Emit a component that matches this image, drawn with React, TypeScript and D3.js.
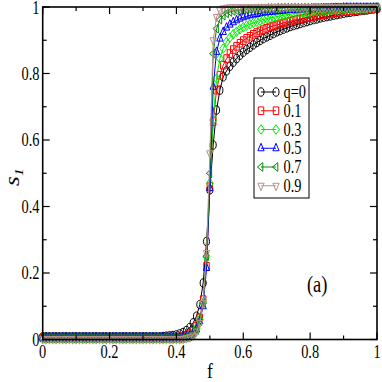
import React from "react";
import * as d3 from "d3";

// f grid (x values)
const F = [
  0, 0.01, 0.02, 0.03, 0.04, 0.05, 0.06, 0.07, 0.08, 0.09,
  0.1, 0.11, 0.12, 0.13, 0.14, 0.15, 0.16, 0.17, 0.18, 0.19,
  0.2, 0.21, 0.22, 0.23, 0.24, 0.25, 0.26, 0.27, 0.28, 0.29,
  0.3, 0.31, 0.32, 0.33, 0.34, 0.35, 0.36, 0.37, 0.38, 0.39,
  0.4, 0.41, 0.42, 0.43, 0.44, 0.45, 0.46, 0.47, 0.48, 0.49,
  0.5, 0.51, 0.52, 0.53, 0.54, 0.55, 0.56, 0.57, 0.58, 0.59,
  0.6, 0.61, 0.62, 0.63, 0.64, 0.65, 0.66, 0.67, 0.68, 0.69,
  0.7, 0.71, 0.72, 0.73, 0.74, 0.75, 0.76, 0.77, 0.78, 0.79,
  0.8, 0.81, 0.82, 0.83, 0.84, 0.85, 0.86, 0.87, 0.88, 0.89,
  0.9, 0.91, 0.92, 0.93, 0.94, 0.95, 0.96, 0.97, 0.98, 0.99, 1,
];

const q0 = [
  0.008, 0.008, 0.008, 0.008, 0.008, 0.008, 0.008, 0.008, 0.008, 0.008,
  0.008, 0.008, 0.008, 0.008, 0.008, 0.008, 0.008, 0.008, 0.008, 0.008,
  0.008, 0.008, 0.008, 0.008, 0.008, 0.008, 0.008, 0.008, 0.008, 0.008,
  0.008, 0.008, 0.008, 0.008, 0.008, 0.008, 0.009, 0.01, 0.011, 0.012,
  0.014, 0.017, 0.021, 0.027, 0.036, 0.05, 0.07, 0.105, 0.17, 0.295,
  0.45, 0.585, 0.69, 0.75, 0.79, 0.808, 0.822, 0.834, 0.845, 0.855,
  0.864, 0.872, 0.879, 0.886, 0.893, 0.899, 0.905, 0.91, 0.915, 0.92,
  0.925, 0.929, 0.933, 0.937, 0.941, 0.944, 0.947, 0.95, 0.953, 0.956,
  0.959, 0.962, 0.964, 0.967, 0.969, 0.971, 0.973, 0.975, 0.977, 0.979,
  0.981, 0.983, 0.984, 0.986, 0.987, 0.989, 0.99, 0.991, 0.993, 0.994, 0.995,
];

const q1 = [
  0.005, 0.005, 0.005, 0.005, 0.005, 0.005, 0.005, 0.005, 0.005, 0.005,
  0.005, 0.005, 0.005, 0.005, 0.005, 0.005, 0.005, 0.005, 0.005, 0.005,
  0.005, 0.005, 0.005, 0.005, 0.005, 0.005, 0.005, 0.005, 0.005, 0.005,
  0.005, 0.005, 0.005, 0.005, 0.005, 0.005, 0.005, 0.005, 0.005, 0.005,
  0.006, 0.007, 0.009, 0.012, 0.017, 0.025, 0.04, 0.065, 0.12, 0.22,
  0.46, 0.655, 0.75, 0.795, 0.825, 0.845, 0.86, 0.872, 0.882, 0.891,
  0.899, 0.906, 0.912, 0.918, 0.923, 0.928, 0.932, 0.936, 0.94, 0.943,
  0.946, 0.949, 0.952, 0.955, 0.957, 0.96, 0.962, 0.964, 0.966, 0.968,
  0.97, 0.972, 0.974, 0.976, 0.977, 0.979, 0.98, 0.982, 0.983, 0.985,
  0.986, 0.987, 0.988, 0.989, 0.99, 0.991, 0.992, 0.993, 0.994, 0.995, 0.996,
];

const q3 = [
  0.004, 0.004, 0.004, 0.004, 0.004, 0.004, 0.004, 0.004, 0.004, 0.004,
  0.004, 0.004, 0.004, 0.004, 0.004, 0.004, 0.004, 0.004, 0.004, 0.004,
  0.004, 0.004, 0.004, 0.004, 0.004, 0.004, 0.004, 0.004, 0.004, 0.004,
  0.004, 0.004, 0.004, 0.004, 0.004, 0.004, 0.004, 0.004, 0.004, 0.004,
  0.004, 0.005, 0.007, 0.009, 0.013, 0.02, 0.033, 0.06, 0.11, 0.25,
  0.47, 0.66, 0.785, 0.845, 0.875, 0.895, 0.908, 0.918, 0.926, 0.933,
  0.939, 0.944, 0.948, 0.952, 0.956, 0.959, 0.962, 0.965, 0.967, 0.969,
  0.971, 0.973, 0.975, 0.977, 0.978, 0.98, 0.981, 0.982, 0.983, 0.984,
  0.985, 0.986, 0.987, 0.988, 0.989, 0.99, 0.991, 0.992, 0.992, 0.993,
  0.993, 0.994, 0.994, 0.995, 0.995, 0.996, 0.996, 0.997, 0.997, 0.998, 0.998,
];

const q5 = [
  0.006, 0.006, 0.006, 0.006, 0.006, 0.006, 0.006, 0.006, 0.006, 0.006,
  0.006, 0.006, 0.006, 0.006, 0.006, 0.006, 0.006, 0.006, 0.006, 0.006,
  0.006, 0.006, 0.006, 0.006, 0.006, 0.006, 0.006, 0.006, 0.006, 0.006,
  0.006, 0.006, 0.006, 0.006, 0.006, 0.006, 0.006, 0.006, 0.006, 0.006,
  0.006, 0.006, 0.007, 0.009, 0.012, 0.018, 0.03, 0.055, 0.1, 0.215,
  0.455, 0.76, 0.865, 0.905, 0.925, 0.938, 0.947, 0.954, 0.96, 0.965,
  0.969, 0.972, 0.975, 0.977, 0.979, 0.981, 0.983, 0.984, 0.985, 0.986,
  0.987, 0.988, 0.989, 0.99, 0.991, 0.991, 0.992, 0.993, 0.993, 0.994,
  0.994, 0.995, 0.995, 0.995, 0.996, 0.996, 0.996, 0.997, 0.997, 0.997,
  0.998, 0.998, 0.998, 0.998, 0.998, 0.998, 0.998, 0.998, 0.998, 0.998, 0.998,
];

const q7 = [
  0.003, 0.003, 0.003, 0.003, 0.003, 0.003, 0.003, 0.003, 0.003, 0.003,
  0.003, 0.003, 0.003, 0.003, 0.003, 0.003, 0.003, 0.003, 0.003, 0.003,
  0.003, 0.003, 0.003, 0.003, 0.003, 0.003, 0.003, 0.003, 0.003, 0.003,
  0.003, 0.003, 0.003, 0.003, 0.003, 0.003, 0.003, 0.003, 0.003, 0.003,
  0.003, 0.003, 0.004, 0.006, 0.009, 0.015, 0.028, 0.055, 0.11, 0.25,
  0.5, 0.86, 0.935, 0.962, 0.974, 0.981, 0.985, 0.988, 0.99, 0.991,
  0.992, 0.993, 0.994, 0.995, 0.995, 0.996, 0.996, 0.997, 0.997, 0.997,
  0.998, 0.998, 0.998, 0.998, 0.998, 0.998, 0.998, 0.998, 0.998, 0.998,
  0.998, 0.998, 0.998, 0.998, 0.998, 0.998, 0.999, 0.999, 0.999, 0.999,
  0.999, 0.999, 0.999, 0.999, 0.999, 0.999, 0.999, 0.999, 0.999, 0.999, 0.999,
];

const q9 = [
  0.001, 0.001, 0.001, 0.001, 0.001, 0.001, 0.001, 0.001, 0.001, 0.001,
  0.001, 0.001, 0.001, 0.001, 0.001, 0.001, 0.001, 0.001, 0.001, 0.001,
  0.001, 0.001, 0.001, 0.001, 0.001, 0.001, 0.001, 0.001, 0.001, 0.001,
  0.001, 0.001, 0.001, 0.001, 0.001, 0.001, 0.001, 0.001, 0.001, 0.001,
  0.001, 0.001, 0.002, 0.004, 0.007, 0.012, 0.024, 0.05, 0.11, 0.26,
  0.56, 0.9, 0.97, 0.99, 0.996, 0.998, 0.999, 0.999, 0.999, 0.999,
  0.999, 0.999, 0.999, 0.999, 0.999, 0.999, 0.999, 0.999, 0.999, 0.999,
  0.999, 0.999, 0.999, 0.999, 0.999, 0.999, 0.999, 0.999, 0.999, 0.999,
  0.999, 0.999, 0.999, 0.999, 0.999, 0.999, 0.999, 0.999, 0.999, 0.999,
  0.999, 0.999, 0.999, 0.999, 0.999, 0.999, 0.999, 0.999, 0.999, 0.999, 0.999,
];

const seriesLabels = ["q=0", "0.1", "0.3", "0.5", "0.7", "0.9"];
const seriesValues = [q0, q1, q3, q5, q7, q9];
const colors = ["#000000", "#ff0000", "#00ee00", "#0000ff", "#008b00", "#bc8f8f"];
const shapes = ["circle", "square", "diamond", "up", "left", "down"];

const majorTicks = [0, 0.2, 0.4, 0.6, 0.8, 1];
const minorTicks = [0.1, 0.3, 0.5, 0.7, 0.9];
const tickLabels = ["0", "0.2", "0.4", "0.6", "0.8", "1"];

const SQ = 0.72; // horizontal squeeze of glyphs and markers

function shapePath(s: string) {
  if (s === "circle") {
    const r = 4.2;
    return `M${r},0A${r},${r} 0 1,1 ${-r},0A${r},${r} 0 1,1 ${r},0Z`;
  }
  if (s === "square") {
    const h = 3.8;
    return `M${-h},${-h}H${h}V${h}H${-h}Z`;
  }
  if (s === "diamond") {
    const d = 4.8;
    return `M0,${-d}L${d},0L0,${d}L${-d},0Z`;
  }
  const t = 5;
  const a = t * 0.87;
  if (s === "up") return `M0,${-t}L${a},${t / 2}L${-a},${t / 2}Z`;
  if (s === "down") return `M0,${t}L${a},${-t / 2}L${-a},${-t / 2}Z`;
  return `M${-t},0L${t / 2},${-a}L${t / 2},${a}Z`;
}

function Label(props: any) {
  const { x, y, size, anchor, children, italic } = props;
  return (
    <text
      transform={`translate(${x},${y}) scale(0.8,1)`}
      fontSize={size}
      textAnchor={anchor || "start"}
      fontStyle={italic ? "italic" : "normal"}
      fontFamily="'Liberation Serif', 'Times New Roman', serif"
      fill="#000"
    >
      {children}
    </text>
  );
}

function Marker(props: any) {
  const { x, y, shape, color } = props;
  return (
    <path
      d={shapePath(shape)}
      transform={`translate(${x},${y}) scale(${SQ},1)`}
      fill="none"
      stroke={color}
      strokeWidth={1}
      vectorEffect="non-scaling-stroke"
    />
  );
}

export default function App() {
  const W = 382;
  const H = 382;
  const x = d3.scaleLinear().domain([0, 1]).range([42.7, 377]);
  const y = d3.scaleLinear().domain([0, 1]).range([339.5, 7]);

  const line = d3
    .line<number>()
    .x((_, i) => x(F[i]))
    .y((d) => y(d));

  const legX = 254;
  const legY = 78;
  const legRow = 18.75;

  return (
    <svg
      width={W}
      height={H}
      style={{ position: "absolute", left: 0, top: 0, background: "#fff" }}
    >
      <rect x={0} y={0} width={W} height={H} fill="#fff" />

      {/* series */}
      {seriesValues.map((vals, si) => (
        <g key={si}>
          <path d={line(vals) || ""} fill="none" stroke={colors[si]} strokeWidth={1} />
          {vals.map((v, i) => (
            <Marker key={i} x={x(F[i])} y={y(v)} shape={shapes[si]} color={colors[si]} />
          ))}
        </g>
      ))}

      {/* frame */}
      <rect
        x={x(0)}
        y={y(1)}
        width={x(1) - x(0)}
        height={y(0) - y(1)}
        fill="none"
        stroke="#000"
        strokeWidth={1.6}
      />

      {/* ticks */}
      {majorTicks.map((t) => (
        <g key={"M" + t} stroke="#000" strokeWidth={1.2}>
          <line x1={x(t)} x2={x(t)} y1={y(0)} y2={y(0) - 7} />
          <line x1={x(t)} x2={x(t)} y1={y(1)} y2={y(1) + 7} />
          <line x1={x(0)} x2={x(0) + 7} y1={y(t)} y2={y(t)} />
          <line x1={x(1)} x2={x(1) - 7} y1={y(t)} y2={y(t)} />
        </g>
      ))}
      {minorTicks.map((t) => (
        <g key={"m" + t} stroke="#000" strokeWidth={1.2}>
          <line x1={x(t)} x2={x(t)} y1={y(0)} y2={y(0) - 4} />
          <line x1={x(t)} x2={x(t)} y1={y(1)} y2={y(1) + 4} />
          <line x1={x(0)} x2={x(0) + 4} y1={y(t)} y2={y(t)} />
          <line x1={x(1)} x2={x(1) - 4} y1={y(t)} y2={y(t)} />
        </g>
      ))}

      {/* tick labels */}
      {majorTicks.map((t, i) => (
        <Label key={"xl" + t} x={x(t)} y={357.5} size={18} anchor="middle">
          {tickLabels[i]}
        </Label>
      ))}
      {majorTicks.map((t, i) => (
        <Label key={"yl" + t} x={39.5} y={Math.max(y(t) + 6, 14)} size={18} anchor="end">
          {tickLabels[i]}
        </Label>
      ))}

      {/* axis titles */}
      <Label x={(x(0) + x(1)) / 2} y={378} size={22} anchor="middle">
        f
      </Label>
      <text
        transform={`translate(19,186) scale(0.8,1) rotate(-90)`}
        fontSize={25}
        fontStyle="italic"
        fontFamily="'Liberation Serif', 'Times New Roman', serif"
        fill="#000"
      >
        s
        <tspan fontSize={16} dy={5}>
          1
        </tspan>
      </text>

      <Label x={307} y={292} size={23}>
        (a)
      </Label>

      {/* legend */}
      <rect
        x={legX}
        y={legY}
        width={55}
        height={120}
        fill="#fff"
        stroke="#000"
        strokeWidth={1}
      />
      {seriesLabels.map((lab, si) => {
        const cy = legY + 14 + si * legRow;
        return (
          <g key={"lg" + si}>
            <line x1={261} x2={276} y1={cy} y2={cy} stroke={colors[si]} strokeWidth={1} />
            <Marker x={261} y={cy} shape={shapes[si]} color={colors[si]} />
            <Marker x={276} y={cy} shape={shapes[si]} color={colors[si]} />
            <Label x={283.5} y={cy + 6} size={18}>
              {lab}
            </Label>
          </g>
        );
      })}
    </svg>
  );
}
